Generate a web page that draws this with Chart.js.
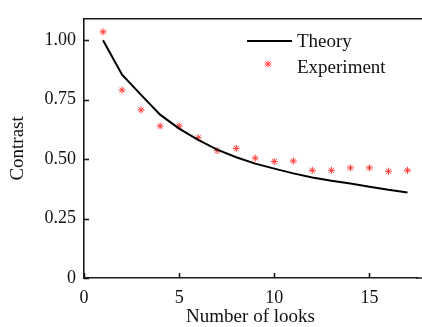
<!DOCTYPE html>
<html>
<head>
<meta charset="utf-8">
<script src="https://cdn.jsdelivr.net/npm/chart.js@4.4.0/dist/chart.umd.min.js"></script>
<style>
  html, body { margin: 0; padding: 0; background: #fff; overflow: hidden; }
  #wrap { width: 422px; height: 327px; }
</style>
</head>
<body>
<div id="wrap"><canvas id="grafico" width="422" height="327"></canvas></div>
<script>
// Dados
const looks = [1, 2, 3, 4, 5, 6, 7, 8, 9, 10, 11, 12, 13, 14, 15, 16, 17];
const theory = [1.00, 0.855, 0.77, 0.687, 0.628, 0.581, 0.540, 0.508, 0.481, 0.460, 0.440, 0.423, 0.409, 0.397, 0.384, 0.371, 0.360];
const experiment = [1.035, 0.79, 0.707, 0.639, 0.639, 0.590, 0.536, 0.545, 0.504, 0.490, 0.492, 0.453, 0.453, 0.463, 0.463, 0.449, 0.453];
const xTicks = [0, 5, 10, 15];
const yTicks = [0, 0.25, 0.5, 0.75, 1.0];
const legendLabels = ["Theory", "Experiment"];

const fonte = "'Liberation Serif', 'Times New Roman', serif";
const vermelho = "#ff3b3b";

// Bordas, marcas internas e legenda
const extras = {
    id: "extras",
    afterDraw(chart) {
        const ctx = chart.ctx;
        const area = chart.chartArea;
        const sx = chart.scales.x;
        const sy = chart.scales.y;
        ctx.save();
        ctx.strokeStyle = "#1a1a1a";
        ctx.lineWidth = 1.6;
        // linha de cima e prolongamento do eixo x até a borda
        ctx.beginPath();
        ctx.moveTo(area.left, area.top);
        ctx.lineTo(chart.width, area.top);
        ctx.moveTo(area.right - 1, area.bottom);
        ctx.lineTo(chart.width, area.bottom);
        ctx.stroke();
        // marcas para dentro
        xTicks.forEach(v => {
            const px = Math.round(sx.getPixelForValue(v)) + 0.5;
            ctx.beginPath();
            ctx.moveTo(px, area.bottom);
            ctx.lineTo(px, area.bottom - 5);
            ctx.stroke();
        });
        yTicks.forEach(v => {
            const py = Math.round(sy.getPixelForValue(v)) + 0.5;
            ctx.beginPath();
            ctx.moveTo(area.left, py);
            ctx.lineTo(area.left + 5, py);
            ctx.stroke();
        });
        // legenda
        ctx.lineWidth = 2;
        ctx.strokeStyle = "#000";
        ctx.beginPath();
        ctx.moveTo(247, 41);
        ctx.lineTo(292, 41);
        ctx.stroke();
        ctx.strokeStyle = vermelho;
        ctx.fillStyle = vermelho;
        ctx.lineWidth = 1;
        Chart.helpers.drawPoint(ctx, {
            pointStyle: "star", radius: 3.5, rotation: 0, borderWidth: 1
        }, 268, 64);
        ctx.fillStyle = "#111";
        ctx.font = "19px " + fonte;
        ctx.textBaseline = "middle";
        ctx.textAlign = "left";
        ctx.fillText(legendLabels[0], 297, 42);
        ctx.fillText(legendLabels[1], 297, 68);
        ctx.restore();
    }
};

const grafico = new Chart(document.getElementById("grafico"), {
    type: "scatter",
    data: {
        datasets: [
            {
                label: legendLabels[0],
                type: "line",
                data: looks.map((x, i) => ({ x: x, y: theory[i] })),
                borderColor: "#000",
                borderWidth: 2,
                pointRadius: 0,
                fill: false,
                tension: 0
            },
            {
                label: legendLabels[1],
                data: looks.map((x, i) => ({ x: x, y: experiment[i] })),
                pointStyle: "star",
                pointRadius: 3.5,
                borderColor: vermelho,
                borderWidth: 1,
                backgroundColor: vermelho
            }
        ]
    },
    options: {
        responsive: false,
        animation: false,
        layout: { padding: { top: 14, right: 0, left: 0, bottom: 0 } },
        plugins: {
            legend: { display: false },
            tooltip: { enabled: false }
        },
        scales: {
            x: {
                type: "linear",
                min: 0,
                max: 17.5,
                afterBuildTicks: s => { s.ticks = xTicks.map(v => ({ value: v })); },
                afterFit: s => { s.height = 49; },
                grid: { display: false, drawTicks: false },
                border: { display: true, color: "#1a1a1a", width: 1.6 },
                ticks: {
                    padding: 9,
                    color: "#111",
                    font: { family: fonte, size: 18 },
                    maxRotation: 0
                },
                title: {
                    display: true,
                    text: "Number of looks",
                    color: "#111",
                    font: { family: fonte, size: 19, lineHeight: 1.0 },
                    padding: { top: 0, bottom: 0 }
                }
            },
            y: {
                min: 0,
                max: 1.09,
                afterBuildTicks: s => { s.ticks = yTicks.map(v => ({ value: v })); },
                afterFit: s => { s.width = 84; },
                grid: { display: false, drawTicks: false },
                border: { display: true, color: "#1a1a1a", width: 1.6 },
                ticks: {
                    padding: 8,
                    color: "#111",
                    font: { family: fonte, size: 18 },
                    callback: v => v === 0 ? "0" : v.toFixed(2)
                },
                title: {
                    display: true,
                    text: "Contrast",
                    color: "#111",
                    font: { family: fonte, size: 19 },
                    padding: { top: 7, bottom: 0 }
                }
            }
        }
    },
    plugins: [extras]
});
</script>
</body>
</html>
